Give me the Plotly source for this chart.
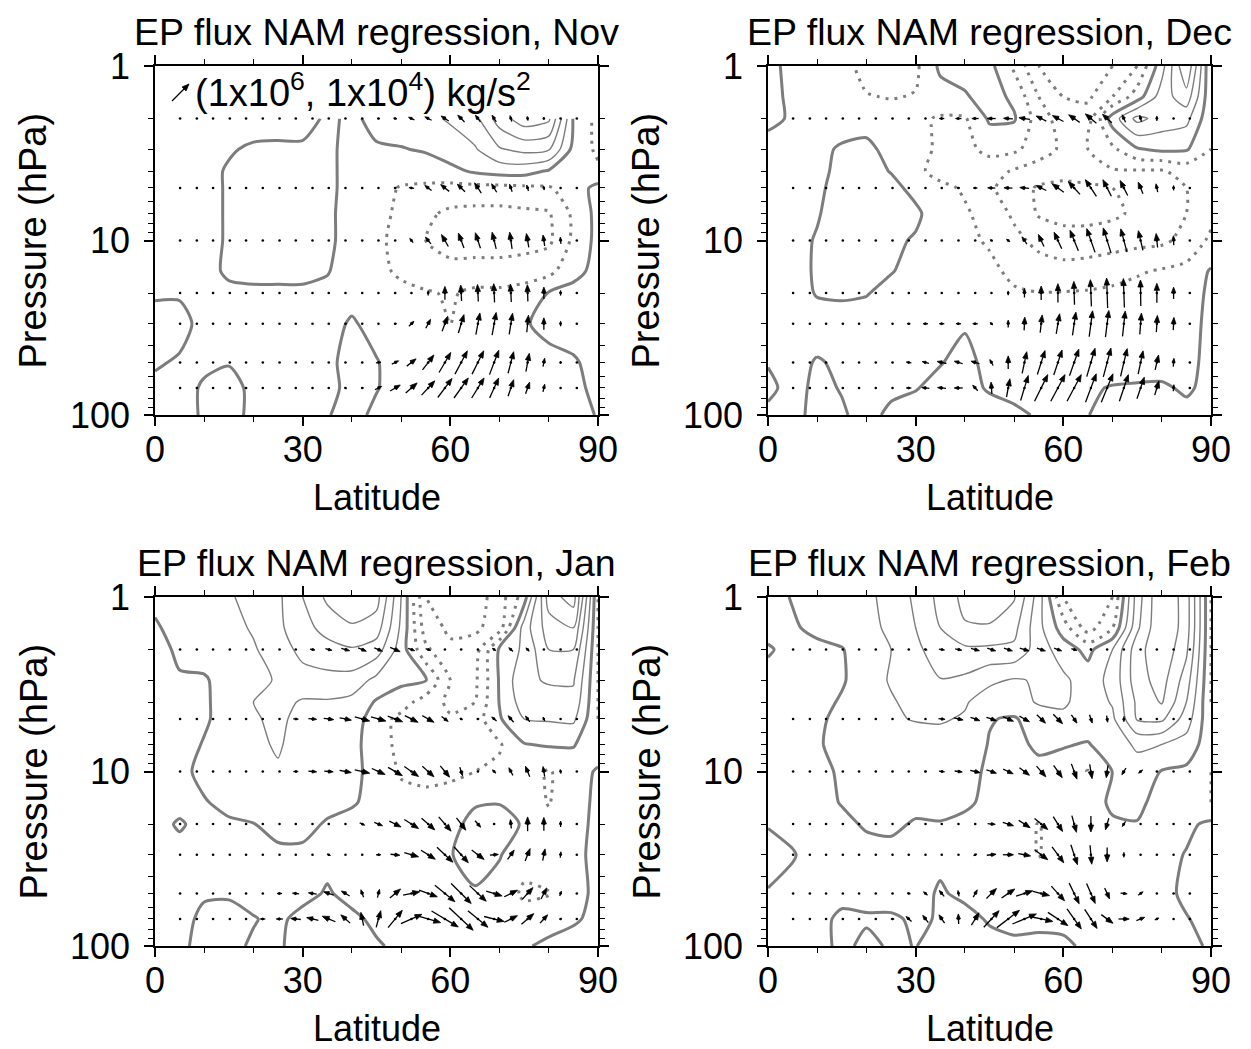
import math
import plotly.graph_objects as go

W, H = 1251, 1049
FONT = "Liberation Sans, Arial, sans-serif"

# ---------------- contour field grid (value of regression, interval 1) -------------
LATS = [0, 5, 10, 15, 20, 25, 30, 35, 40, 45, 50, 55, 60, 65, 70, 75, 80, 85, 90]
P_NOV = [2, 3, 4, 5, 7, 10, 15, 20, 30, 50, 70, 100]
P_ALL = [1, 1.5, 2, 3, 4, 5, 7, 10, 15, 20, 30, 50, 70, 100]

Z_NOV = [
    [-0.3, -0.3, -0.4, -0.5, -0.5, -0.5, -0.5, 0.2, -0.2, 0.3, 0.5, 0.8, 1.1, 1.7, 3.5, 4.6, 4.2, -0.1, -1.3],
    [-0.3, -0.3, -0.3, -0.1, 0.15, 0.2, 0.2, 0.2, -0.3, -0.1, -0.05, 0.1, 0.6, 0.9, 1.9, 2.3, 2.1, -0.3, -1.2],
    [-0.3, -0.3, -0.3, 0.1, 0.3, 0.3, 0.3, 0.2, -0.3, -0.4, -0.4, -0.5, -0.3, 0.15, 0.4, 0.4, -0.1, -0.4, -0.8],
    [-0.3, -0.3, -0.3, 0.1, 0.3, 0.3, 0.3, 0.2, -0.3, -0.5, -1.1, -1.2, -1.3, -1.3, -1.3, -1.2, -1.1, -0.5, 0.3],
    [-0.3, -0.3, -0.3, 0.1, 0.3, 0.3, 0.3, 0.2, -0.4, -0.7, -1.2, -1.8, -2.2, -2.3, -2.3, -2.2, -2.1, -0.8, 0.3],
    [-0.3, -0.3, -0.3, 0.1, 0.3, 0.3, 0.3, 0.2, -0.4, -0.8, -1.3, -2.0, -2.4, -2.5, -2.5, -2.4, -2.2, -0.8, 0.3],
    [-0.3, -0.3, -0.3, 0.15, 0.3, 0.3, 0.3, 0.05, -0.4, -0.7, -1.2, -1.6, -1.7, -1.6, -1.6, -1.5, -1.3, -0.3, 0.3],
    [-0.1, -0.1, -0.3, -0.2, -0.2, -0.2, -0.2, -0.2, -0.3, -0.5, -0.7, -0.9, -1.1, -0.8, -0.8, -0.6, 0.05, 0.3, 0.4],
    [0.3, 0.3, -0.3, -0.3, -0.3, -0.3, -0.3, -0.3, 0.1, -0.3, -0.6, -0.7, -1.02, -0.6, -0.5, -0.1, 0.3, 0.4, 0.4],
    [0.1, -0.1, -0.15, -0.05, -0.2, -0.2, -0.2, -0.2, 0.3, 0.05, -0.4, -0.5, -0.5, -0.5, -0.4, -0.4, -0.3, -0.1, 0.3],
    [-0.2, -0.3, 0.1, 0.3, -0.2, -0.3, -0.3, -0.3, 0.3, 0.05, -0.4, -0.4, -0.4, -0.4, -0.4, -0.4, -0.3, -0.2, 0.2],
    [-0.3, -0.3, 0.1, 0.3, -0.2, -0.3, -0.3, -0.05, 0.3, -0.2, -0.4, -0.4, -0.4, -0.4, -0.4, -0.4, -0.3, -0.3, 0.05],
]

Z_DEC = [
    [0.3, -0.3, -0.4, -0.7, -1.3, -1.4, -1.2, 0.2, 0.4, 0.3, -1.2, -3.0, -3.5, -3.5, -3.0, -2.0, 0.6, 4.0, -1.0],
    [0.3, -0.2, -0.3, -0.6, -0.95, -1.05, -0.95, -0.4, -0.1, 0.4, -0.2, -2.0, -3.0, -3.2, -2.0, -0.5, 1.5, 2.6, -0.8],
    [0.2, -0.1, -0.3, -0.4, -0.5, -0.6, -0.8, -1.1, -1.1, 0.15, 0.1, -1.5, -2.5, -2.5, 0.5, 2.3, 1.6, 1.3, -0.8],
    [-0.3, -0.3, -0.2, 0.1, 0.3, -0.4, -0.8, -1.1, -1.3, -0.7, -0.8, -1.5, -2.2, -2.0, -1.2, -0.1, 0.2, 0.1, -1.0],
    [-0.3, -0.3, -0.3, 0.3, 0.4, -0.05, -0.8, -1.3, -1.5, -1.6, -2.1, -2.5, -2.6, -2.4, -2.1, -2.1, -2.1, -1.6, -1.0],
    [-0.3, -0.3, -0.15, 0.3, 0.4, 0.3, -0.3, -0.8, -1.1, -1.8, -2.6, -3.1, -3.3, -3.2, -3.0, -2.6, -2.3, -2.0, -1.2],
    [-0.3, -0.3, -0.05, 0.3, 0.4, 0.4, 0.2, -0.6, -0.9, -1.3, -2.2, -3.1, -3.4, -3.4, -3.2, -2.8, -2.5, -2.0, -1.3],
    [-0.3, -0.2, 0.05, 0.3, 0.4, 0.2, -0.1, -0.5, -0.8, -1.1, -1.7, -2.3, -2.5, -2.5, -2.4, -2.3, -2.2, -1.7, -0.8],
    [-0.3, -0.3, 0.1, 0.3, 0.3, 0.05, -0.3, -0.5, -0.6, -0.8, -1.2, -1.5, -1.7, -1.6, -1.4, -1.1, -0.9, -0.7, 0.1],
    [-0.3, -0.3, 0.05, 0.1, 0.05, -0.3, -0.4, -0.5, -0.6, -0.7, -0.9, -0.98, -0.95, -0.9, -0.8, -0.7, -0.6, -0.5, 0.2],
    [-0.3, -0.3, -0.3, -0.3, -0.4, -0.4, -0.3, -0.2, -0.1, -0.4, -0.5, -0.5, -0.5, -0.5, -0.5, -0.5, -0.5, -0.3, 0.2],
    [-0.05, -0.2, 0.05, -0.1, -0.3, -0.3, -0.3, -0.05, 0.3, -0.3, -0.4, -0.4, -0.4, -0.4, -0.4, -0.4, -0.3, -0.2, 0.2],
    [0.2, -0.3, 0.2, -0.05, -0.3, -0.2, -0.05, 0.3, 0.3, -0.1, -0.3, -0.3, -0.3, -0.1, 0.05, 0.1, 0.1, -0.1, 0.2],
    [-0.2, -0.3, 0.3, 0.1, -0.3, 0.2, 0.4, 0.4, 0.4, 0.4, 0.2, -0.1, -0.1, -0.02, 0.3, 0.3, 0.3, 0.2, 0.2],
]

Z_JAN = [
    [0.2, 0.5, 0.7, 0.9, 1.3, 1.8, 3.0, 4.2, 4.6, 4.4, 1.0, -3.0, -3.5, -3.5, -2.5, -0.5, 4.5, 5.5, -1.0],
    [-0.1, 0.3, 0.5, 0.7, 1.1, 1.8, 2.6, 3.4, 3.9, 3.5, 0.8, -2.5, -3.2, -3.2, -2.5, 1.5, 3.5, 4.0, -1.0],
    [-0.2, 0.1, 0.4, 0.6, 0.9, 1.5, 2.3, 2.6, 2.9, 2.5, 0.5, -1.8, -2.8, -2.5, 0.2, 1.2, 3.0, 3.0, -1.0],
    [-0.3, -0.05, -0.1, 0.4, 0.7, 1.1, 1.6, 1.7, 1.6, 0.7, 0.2, 0.05, -2.0, -2.2, 0.1, 1.8, 2.1, 2.1, -1.0],
    [-0.3, -0.3, -0.1, 0.3, 1.0, 1.3, 0.9, 0.9, 0.7, -0.1, -0.5, -1.5, -2.2, -2.0, 0.05, 1.5, 1.6, 1.7, -1.0],
    [-0.3, -0.3, -0.1, 0.3, 0.9, 1.2, 0.7, 0.6, 0.5, -0.5, -1.3, -1.8, -1.9, -1.5, -0.1, 1.0, 1.1, 1.2, -1.0],
    [-0.3, -0.3, 0.05, 0.3, 0.8, 1.1, 0.6, 0.5, 0.3, -0.5, -1.3, -1.6, -1.7, -1.5, -1.1, -0.05, 0.1, 0.05, -0.5],
    [-0.3, -0.2, 0.2, 0.3, 0.5, 0.9, 0.5, 0.4, 0.3, -0.4, -1.1, -1.2, -1.2, -1.0, -0.8, -0.5, -1.1, -0.4, 0.1],
    [-0.3, -0.3, -0.05, 0.2, 0.3, 0.3, 0.3, 0.3, 0.1, -0.3, -0.7, -0.8, -0.6, -0.1, -0.05, -0.5, -1.05, -0.4, 0.2],
    [-0.3, 0.1, -0.3, -0.1, -0.02, 0.3, 0.3, -0.1, -0.3, -0.4, -0.5, -0.5, -0.3, 0.3, 0.4, -0.1, -0.8, -0.3, 0.2],
    [-0.3, -0.3, -0.3, -0.3, -0.3, -0.2, -0.2, -0.3, -0.3, -0.3, -0.4, -0.4, -0.05, 0.4, 0.05, -0.5, -0.3, -0.2, 0.2],
    [-0.3, -0.3, -0.1, -0.1, -0.3, -0.3, -0.3, 0.1, -0.3, -0.3, -0.4, -0.4, -0.2, -0.1, -0.3, -1.2, -1.05, -0.3, 0.2],
    [-0.3, -0.3, 0.2, 0.3, 0.05, -0.2, 0.3, 0.3, 0.2, -0.2, -0.3, -0.3, -0.3, -0.3, -0.3, -0.5, -0.4, -0.1, 0.2],
    [-0.3, -0.2, 0.3, 0.2, -0.1, -0.1, 0.3, 0.3, 0.3, 0.1, -0.2, -0.3, -0.3, -0.3, -0.3, -0.1, 0.2, 0.3, 0.2],
]

Z_FEB = [
    [-0.3, 0.05, 0.3, 0.5, 0.8, 1.3, 2.2, 3.3, 4.3, 4.6, 4.1, 1.5, -2.0, -3.0, -2.0, 2.5, 5.0, 3.5, -1.0],
    [-0.3, -0.1, 0.2, 0.4, 0.7, 1.2, 2.0, 3.0, 3.9, 3.9, 3.3, 1.3, -0.5, -2.5, -1.0, 2.8, 5.0, 3.5, -1.0],
    [0.1, -0.3, -0.2, -0.05, 0.5, 1.0, 1.7, 2.7, 2.8, 2.8, 2.8, 1.5, 0.5, -0.3, 1.0, 3.6, 4.8, 3.2, -1.0],
    [-0.3, -0.3, -0.3, -0.1, 0.5, 1.1, 1.6, 1.95, 1.8, 1.2, 0.9, 1.1, 1.2, 0.5, 1.3, 3.6, 4.4, 2.5, -1.0],
    [-0.3, -0.3, -0.3, 0.1, 0.5, 0.9, 1.3, 1.4, 1.1, 0.5, 0.6, 1.1, 1.2, 0.4, 1.1, 3.2, 4.1, 2.0, -1.0],
    [-0.3, -0.3, -0.2, 0.3, 0.6, 0.9, 1.05, 1.1, 0.9, 0.05, -0.1, 0.5, 0.7, 0.4, 0.8, 3.1, 3.2, 1.5, -0.8],
    [-0.3, -0.3, -0.1, 0.3, 0.5, 0.6, 0.6, 0.6, 0.5, -0.05, -0.3, 0.2, 0.05, -0.05, 0.4, 1.2, 1.0, 0.6, -0.6],
    [-0.3, -0.3, -0.2, 0.1, 0.3, 0.3, 0.3, 0.3, 0.2, -0.1, -0.4, -0.3, -0.3, -1.05, 0.02, 0.5, -0.05, -0.2, -1.0],
    [-0.3, -0.3, -0.3, 0.05, 0.3, 0.3, 0.3, 0.3, 0.15, -0.2, -0.4, -0.4, -0.4, -0.4, 0.15, 0.25, -0.4, -0.3, -1.0],
    [-0.05, -0.2, -0.3, -0.2, 0.1, 0.2, -0.1, -0.05, -0.2, -0.3, -0.4, -1.05, -0.4, -0.4, -0.1, -0.05, -0.3, -0.2, 0.2],
    [0.3, 0.05, -0.3, -0.3, -0.3, -0.3, -0.3, -0.2, -0.3, -0.3, -0.4, -1.05, -0.4, -0.4, -0.4, -0.3, -0.3, 0.05, 0.3],
    [-0.05, -0.2, -0.3, -0.3, -0.3, -0.3, -0.3, 0.1, -0.2, -0.3, -0.3, -0.3, -0.3, -0.3, -0.3, -0.3, -0.3, 0.2, 0.3],
    [-0.3, -0.3, -0.3, 0.2, 0.1, 0.1, -0.1, 0.05, 0.3, -0.1, -0.3, -0.3, -0.3, -0.3, -0.3, -0.3, -0.3, -0.05, 0.3],
    [-0.3, -0.3, -0.3, 0.2, -0.2, 0.1, -0.02, 0.3, 0.3, 0.3, 0.2, 0.3, 0.2, -0.2, -0.3, -0.3, -0.3, -0.2, 0.1],
]

# ---------------- EP flux vectors (Fy in 1e6, Fz in 1e4 kg/s^2) -------------
VEC_LATS = [5.1, 8.5, 11.8, 15.2, 18.5, 21.9, 25.3, 28.6, 32.0, 35.3, 38.7, 42.1, 45.4,
            48.8, 52.1, 55.5, 58.9, 62.2, 65.6, 68.9, 72.3, 75.7, 79.0, 82.4, 85.7]
VEC_P = [2, 5, 10, 20, 30, 50, 70]

FX_NOV = [
    [0,0,0,0,0,0,0,0,0,0,0,-0.1,-0.15,-0.2,-0.35,-0.4,-0.45,-0.4,-0.3,-0.25,-0.1,-0.05,0,0,0],
    [0,0,0,0,0,0,0,0,0,0,0,-0.02,-0.05,-0.15,-0.3,-0.4,-0.5,-0.45,-0.4,-0.3,-0.15,-0.1,-0.05,0,0],
    [0,0,0,0,0,0,0,0,0,0,0,0,0,-0.05,-0.2,-0.33,-0.4,-0.33,-0.3,-0.24,-0.14,-0.14,-0.1,-0.04,0],
    [0,0,0,0,0,0,0,0,0,0,0,0,0,0,0,0,0,-0.05,-0.05,-0.05,-0.05,-0.03,0,0,0],
    [0,0,0,0,0,0,0,0,0,0,0,0.02,0.05,0.15,0.3,0.28,0.33,0.33,0.24,0.24,0.2,0.1,0,0,0],
    [0,0,0,0,0,0,0,0,0,0,0.03,0.1,0.3,0.4,0.55,0.67,0.69,0.73,0.69,0.55,0.33,0.2,0.1,0,0],
    [0,0,0,0,0,0,0,0,0,-0.1,0.1,0.15,0.4,0.6,0.67,0.78,0.84,0.84,0.73,0.53,0.33,0.24,0.1,0,0],
]
FZ_NOV = [
    [0,0,0,0,0,0,0,0,0,0,0,0,0,0.05,0.15,0.2,0.3,0.4,0.4,0.4,0.35,0.25,0.15,0.05,0],
    [0,0,0,0,0,0,0,0,0,0,0,0,0,0,0.05,0.3,0.4,0.45,0.6,0.5,0.45,0.35,0.25,0.05,0],
    [0,0,0,0,0,0,0,0,0,0,0,0,0,0,0.25,0.4,0.7,0.88,0.92,0.98,0.98,0.82,0.65,0.4,0.05],
    [0,0,0,0,0,0,0,0,0,0,0,0,0,0,0,0.3,0.78,0.94,1.0,1.1,1.05,0.98,0.7,0.3,0.05],
    [0,0,0,0,0,0,0,0,0,0,0,0,0,0.02,0.3,0.53,0.88,1.08,1.27,1.33,1.24,1.0,0.7,0.3,0.05],
    [0,0,0,0,0,0,0,0,0,0,0,0,0.04,0.2,0.43,0.88,1.18,1.37,1.37,1.43,1.27,1.08,0.5,0.14,0],
    [0,0,0,0,0,0,0,0,0,0,-0.1,0.03,0.2,0.35,0.59,0.84,1.12,1.18,1.18,1.18,0.98,0.69,0.45,0.1,0],
]

FX_DEC = [
    [0,0,0,0,0,0,0,0,-0.1,-0.3,-0.35,-0.4,-0.5,-0.55,-0.65,-0.6,-0.65,-0.65,-0.65,-0.55,-0.2,-0.1,0,0,0],
    [0,0,0,0,0,0,0,0,0,0,-0.15,-0.25,-0.45,-0.5,-0.55,-0.6,-0.69,-0.69,-0.65,-0.5,-0.45,-0.28,-0.1,0,0],
    [0,0,0,0,0,0,0,0,0,0,0,0,-0.15,-0.2,-0.29,-0.33,-0.45,-0.49,-0.49,-0.46,-0.37,-0.27,-0.09,-0.02,0],
    [0,0,0,0,0,0,0,0,0,0,0,0,0,0,0,0,0,-0.04,-0.06,-0.06,-0.06,-0.02,0,0,0],
    [0,0,0,0,0,0,-0.1,-0.2,-0.3,-0.3,-0.3,-0.3,-0.15,0,0.04,0.12,0.2,0.2,0.2,0.2,0.16,0.1,0.06,0.04,0],
    [0,0,0,0,0,0,-0.1,-0.3,-0.4,-0.55,-0.5,-0.5,-0.2,0,0.27,0.45,0.49,0.55,0.49,0.45,0.39,0.29,0.2,0.04,0],
    [0,0,0,0,0,0,-0.1,-0.3,-0.45,-0.5,-0.5,-0.3,-0.05,0.2,0.45,0.78,0.84,0.84,0.63,0.69,0.53,0.43,0.25,0.04,0],
]
FZ_DEC = [
    [0,0,0,0,0,0,0,0,0,0,0,0,0,0.03,0.1,0.3,0.35,0.45,0.55,0.5,0.45,0.4,0.3,0.05,0],
    [0,0,0,0,0,0,0,0,0,0,0,0,0.02,0.02,0.05,0.3,0.5,0.75,0.98,0.98,0.88,0.69,0.49,0.29,0.05],
    [0,0,0,0,0,0,0,0,0,0,0,0,0.08,0.15,0.43,0.71,0.98,1.2,1.4,1.48,1.37,1.16,0.82,0.56,0.1],
    [0,0,0,0,0,0,0,0,0,0,0,0,0.08,0.25,0.53,0.82,1.1,1.37,1.57,1.76,1.7,1.53,1.14,0.69,0.05],
    [0,0,0,0,0,0,0,0,0,0,0,0,0.15,0.43,0.78,1.04,1.18,1.37,1.53,1.57,1.49,1.25,0.98,0.75,0.05],
    [0,0,0,0,0,0,0,0.05,0.1,0.12,0.15,0.15,0.35,0.78,1.27,1.41,1.47,1.57,1.67,1.69,1.63,1.37,0.88,0.49,0.02],
    [0,0,0,0,0,0,0,0,0.05,0.05,0,0.33,0.69,1.08,1.47,1.57,1.57,1.57,1.67,1.67,1.57,1.27,0.84,0.39,0],
]

FX_JAN = [
    [0,0,0,0,0,0,0,0.1,0.3,0.39,0.49,0.49,0.49,0.59,0.39,0.3,0.05,0,0,-0.2,-0.25,-0.2,-0.03,0,0],
    [0,0,0,0,0,0,0.05,0.3,0.49,0.59,0.69,0.88,0.88,0.88,0.78,0.69,0.39,0.16,0.15,-0.29,-0.33,-0.25,-0.1,0,0],
    [0,0,0,0,0,0,0.05,0.29,0.49,0.53,0.69,0.88,0.78,0.84,0.84,0.69,0.55,0.16,0,-0.2,-0.24,-0.25,-0.1,-0.04,0],
    [0,0,0,0,0,0,0,0,0,0,0.1,0.3,0.49,0.69,0.84,0.78,0.73,0.55,0.33,0.05,-0.05,0,0,0,0],
    [0,0,0,0,0,0,0,0,0,0.2,0.1,0.05,0.29,0.55,0.84,0.84,0.94,0.84,0.73,0.5,0.39,0.29,0.14,0.04,0],
    [0,0,0,0,0,0.1,-0.3,-0.39,-0.49,-0.59,-0.49,-0.16,0.12,0.63,0.98,1.08,1.18,1.18,0.98,0.94,0.78,0.63,0.33,0.1,0],
    [0,0,0,0,0,-0.3,-0.39,-0.59,-0.69,-0.78,-0.55,-0.16,0.27,0.84,1.24,1.47,1.57,1.41,1.18,1.18,0.78,0.73,0.45,0.1,0],
]
FZ_JAN = [
    [0,0,0,0,0,0,0,0,-0.06,-0.1,-0.14,-0.2,-0.2,-0.25,-0.14,-0.1,0,0,0,0.15,0.22,0.2,0.05,0,0],
    [0,0,0,0,0,0,0,-0.02,-0.04,-0.08,-0.14,-0.25,-0.25,-0.33,-0.39,-0.39,-0.29,-0.1,0,0.24,0.39,0.35,0.24,0.05,0],
    [0,0,0,0,0,0,0,0,-0.04,-0.04,-0.12,-0.2,-0.35,-0.49,-0.59,-0.63,-0.67,-0.51,0,0.2,0.45,0.63,0.59,0.24,0],
    [0,0,0,0,0,0,0,0,0,0,-0.03,-0.14,-0.2,-0.35,-0.53,-0.69,-0.84,-0.73,-0.39,0.05,0.53,0.84,0.78,0.35,0],
    [0,0,0,0,0,0,0,0,0,-0.1,-0.05,0,0,-0.06,-0.24,-0.53,-0.88,-0.94,-0.55,0.04,0.55,0.73,0.69,0.35,0],
    [0,0,0,0,0,0,0,0.04,0.08,0.2,0.29,0.45,0.49,0.53,0.2,-0.39,-0.98,-1.18,-0.92,-0.29,0.39,0.69,0.65,0.29,0],
    [0,0,0,0,0,0,0,0.06,0.16,0.33,0.49,0.78,0.98,1.02,0.55,-0.43,-0.94,-1.33,-0.98,-0.29,0.39,0.63,0.49,0.1,0],
]

FX_FEB = [
    [0,0,0,0,0,0,0,0,0.2,0.33,0.39,0.5,0.5,0.5,0.55,0.5,0.45,0.33,0.05,0,0,0,0,0,0],
    [0,0,0,0,0,0,0,0,0.1,0.39,0.55,0.55,0.59,0.63,0.59,0.51,0.55,0.33,0.16,0.06,0,0,0,0,0],
    [0,0,0,0,0,0,0,0,0.15,0.33,0.45,0.59,0.59,0.59,0.59,0.55,0.51,0.33,0.14,-0.1,-0.24,-0.25,0,0,0],
    [0,0,0,0,0,0,0,0,0,0,0,0.1,0.45,0.63,0.67,0.78,0.55,0.27,0,-0.2,-0.2,0,0,0,0],
    [0,0,0,0,0,0,0,0,0,0,0.05,0.2,0.55,0.63,0.73,0.78,0.69,0.39,0.1,0,0,0,0,0,0],
    [0,0,0,0,0,0,-0.1,-0.2,-0.24,-0.29,-0.06,0.24,0.59,0.78,0.98,0.98,0.78,0.59,0.51,0.29,0.39,0.29,0.05,0,0],
    [0,0,0,0,-0.1,-0.1,-0.2,-0.33,-0.33,-0.33,-0.02,0.45,0.9,1.33,1.41,1.37,1.18,0.84,0.73,0.69,0.63,0.49,0.25,0.05,0],
]
FZ_FEB = [
    [0,0,0,0,0,0,0,0,-0.05,-0.06,-0.08,-0.14,-0.16,-0.16,-0.16,-0.16,-0.16,-0.1,-0.15,0,0,0,0,0,0],
    [0,0,0,0,0,0,0,0,0,-0.04,-0.12,-0.2,-0.2,-0.27,-0.33,-0.49,-0.55,-0.49,-0.49,-0.39,-0.33,-0.1,0,0,0],
    [0,0,0,0,0,0,0,0,0,-0.04,-0.06,-0.14,-0.2,-0.27,-0.45,-0.63,-0.73,-0.9,-0.84,-0.73,-0.39,-0.2,0,0,0],
    [0,0,0,0,0,0,0,0,0,0,0,0,-0.04,-0.2,-0.43,-0.65,-0.88,-0.98,-0.94,-0.69,-0.3,0,0,0,0],
    [0,0,0,0,0,0,0,0,0,0,0,0.1,0.06,0,-0.14,-0.59,-0.94,-1.18,-1.12,-0.84,-0.3,-0.05,0,0,0],
    [0,0,0,0,0,0,0,0.05,0.2,0.35,0.35,0.43,0.59,0.53,0.31,-0.25,-0.86,-1.22,-1.18,-0.65,-0.04,0.2,0,0,0],
    [0,0,0,0,0,0,0,0.29,0.43,0.49,0.59,0.73,0.98,1.02,0.59,-0.29,-0.78,-1.18,-1.12,-0.51,0,0.2,0.12,0,0],
]

X_TICKS = [0, 30, 60, 90]
X_MINOR = [10, 20, 40, 50, 70, 80]
Y_TICK_P = [1, 10, 100]
Y_MINOR_P = [2, 3, 4, 5, 6, 7, 8, 9, 20, 30, 40, 50, 60, 70, 80, 90]

# ---------------- layout geometry (pixels) -------------
PW, PH = 443, 349
PANELS = [
    dict(month="Nov", x0=155, y0=66, z=Z_NOV, p=P_NOV, fx=FX_NOV, fz=FZ_NOV),
    dict(month="Dec", x0=768, y0=66, z=Z_DEC, p=P_ALL, fx=FX_DEC, fz=FZ_DEC),
    dict(month="Jan", x0=155, y0=597, z=Z_JAN, p=P_ALL, fx=FX_JAN, fz=FZ_JAN),
    dict(month="Feb", x0=768, y0=597, z=Z_FEB, p=P_ALL, fx=FX_FEB, fz=FZ_FEB),
]
SCALE = 17.0            # px per unit vector
PX_DEG = PW / 90.0
PX_DEC = PH / 2.0
GRAY = "#7d7d7d"

fig = go.Figure()
annotations = []
shapes = []


def quiver(fx, fz):
    sx, sy, tx, ty, dx, dy = [], [], [], [], [], []
    for i, p in enumerate(VEC_P):
        ly = math.log10(p)
        for j, lat in enumerate(VEC_LATS):
            dx.append(lat)
            dy.append(ly)
            u = fx[i][j] * SCALE
            v = fz[i][j] * SCALE
            L = math.hypot(u, v)
            if L < 2.0:
                continue
            ux, uy = u / L, v / L
            nx, ny = -uy, ux
            hl = min(7.0, 0.5 * L)
            hw = hl * 0.38

            def to_d(px, py):
                return lat + px / PX_DEG, ly - py / PX_DEC

            t = to_d(-u / 2, -v / 2)
            hx, hy = u / 2, v / 2
            bx, by = hx - hl * ux, hy - hl * uy
            b = to_d(bx, by)
            sx += [t[0], b[0], None]
            sy += [t[1], b[1], None]
            h = to_d(hx, hy)
            c1 = to_d(bx + hw * nx, by + hw * ny)
            c2 = to_d(bx - hw * nx, by - hw * ny)
            tx += [h[0], c1[0], c2[0], h[0], None]
            ty += [h[1], c1[1], c2[1], h[1], None]
    return sx, sy, tx, ty, dx, dy


for k, P in enumerate(PANELS, start=1):
    xa = "x" if k == 1 else f"x{k}"
    ya = "y" if k == 1 else f"y{k}"
    logp = [math.log10(v) for v in P["p"]]
    common = dict(x=LATS, y=logp, z=P["z"], xaxis=xa, yaxis=ya, showscale=False,
                  hoverinfo="skip", autocontour=False)
    fig.add_trace(go.Contour(**common, contours=dict(start=-9, end=-1, size=1, coloring="none"),
                             line=dict(color=GRAY, width=3, dash="3px,6px", smoothing=0.7)))
    fig.add_trace(go.Contour(**common, contours=dict(start=1, end=9, size=1, coloring="none"),
                             line=dict(color=GRAY, width=1.4, smoothing=0.7)))
    fig.add_trace(go.Contour(**common, contours=dict(start=0, end=0, size=1, coloring="none"),
                             line=dict(color=GRAY, width=3, smoothing=0.7)))

    sx, sy, tx, ty, dx, dy = quiver(P["fx"], P["fz"])
    fig.add_trace(go.Scatter(x=dx, y=dy, xaxis=xa, yaxis=ya, mode="markers",
                             marker=dict(size=2.6, color="black"), hoverinfo="skip"))
    fig.add_trace(go.Scatter(x=sx, y=sy, xaxis=xa, yaxis=ya, mode="lines",
                             line=dict(color="black", width=1.3), hoverinfo="skip"))
    fig.add_trace(go.Scatter(x=tx, y=ty, xaxis=xa, yaxis=ya, mode="lines", fill="toself",
                             fillcolor="black", line=dict(color="black", width=0.8),
                             hoverinfo="skip"))

    xd = [P["x0"] / W, (P["x0"] + PW) / W]
    yd = [1 - (P["y0"] + PH) / H, 1 - P["y0"] / H]
    axis_common = dict(showline=True, linecolor="black", linewidth=1.6, mirror="ticks",
                       ticks="outside", tickwidth=1.5, tickcolor="black", showgrid=False,
                       zeroline=False, automargin=False,
                       tickfont=dict(family=FONT, size=36, color="black"))
    fig.layout[("xaxis" if k == 1 else f"xaxis{k}")] = dict(
        domain=xd, anchor=ya, range=[0, 90], tickmode="array", tickvals=X_TICKS,
        ticktext=[str(v) for v in X_TICKS], ticklen=9, ticklabelstandoff=-7,
        minor=dict(tickmode="array", tickvals=X_MINOR, ticks="outside", ticklen=5,
                   tickwidth=1.2, tickcolor="black"),
        **axis_common)
    fig.layout[("yaxis" if k == 1 else f"yaxis{k}")] = dict(
        domain=yd, anchor=xa, range=[2, 0], tickmode="array",
        tickvals=[math.log10(v) for v in Y_TICK_P], ticktext=[str(v) for v in Y_TICK_P],
        ticklen=9, ticklabelstandoff=7,
        minor=dict(tickmode="array", tickvals=[math.log10(v) for v in Y_MINOR_P],
                   ticks="outside", ticklen=5, tickwidth=1.2, tickcolor="black"),
        **axis_common)

    cx = (P["x0"] + PW / 2) / W
    annotations.append(dict(text=f"EP flux NAM regression, {P['month']}", x=cx,
                            y=1 - (P["y0"] - 34) / H, xref="paper", yref="paper",
                            xanchor="center", yanchor="middle", showarrow=False,
                            font=dict(family=FONT, size=37.5, color="black")))
    annotations.append(dict(text="Latitude", x=cx, y=1 - (P["y0"] + PH + 82) / H,
                            xref="paper", yref="paper", xanchor="center", yanchor="middle",
                            showarrow=False, font=dict(family=FONT, size=36, color="black")))
    annotations.append(dict(text="Pressure (hPa)", x=(P["x0"] - 122) / W,
                            y=1 - (P["y0"] + PH / 2) / H, xref="paper", yref="paper",
                            xanchor="center", yanchor="middle", textangle=-90, showarrow=False,
                            font=dict(family=FONT, size=38, color="black")))

# reference vector key (panel 1)
annotations.append(dict(text="(1x10<sup>6</sup>, 1x10<sup>4</sup>) kg/s<sup>2</sup>",
                        x=193 / W, y=1 - 90 / H, xref="paper", yref="paper",
                        xanchor="left", yanchor="middle", showarrow=False,
                        font=dict(family=FONT, size=38, color="black")))
KEY_TAIL = (172, 101)
KEY_HEAD = (189, 84)
shapes.append(dict(type="line", xref="paper", yref="paper",
                   x0=KEY_TAIL[0] / W, y0=1 - KEY_TAIL[1] / H,
                   x1=(KEY_HEAD[0] - 4) / W, y1=1 - (KEY_HEAD[1] + 4) / H,
                   line=dict(color="black", width=1.2)))
shapes.append(dict(type="path", xref="paper", yref="paper", fillcolor="black",
                   line=dict(color="black", width=0.8),
                   path=(f"M {KEY_HEAD[0] / W} {1 - KEY_HEAD[1] / H} "
                         f"L {(KEY_HEAD[0] - 7) / W} {1 - (KEY_HEAD[1] + 3) / H} "
                         f"L {(KEY_HEAD[0] - 3) / W} {1 - (KEY_HEAD[1] + 7) / H} Z")))

fig.update_layout(template="none", width=W, height=H, margin=dict(l=0, r=0, t=0, b=0),
                  paper_bgcolor="white", plot_bgcolor="white", showlegend=False,
                  annotations=annotations, shapes=shapes)

fig.write_html("out.html")
